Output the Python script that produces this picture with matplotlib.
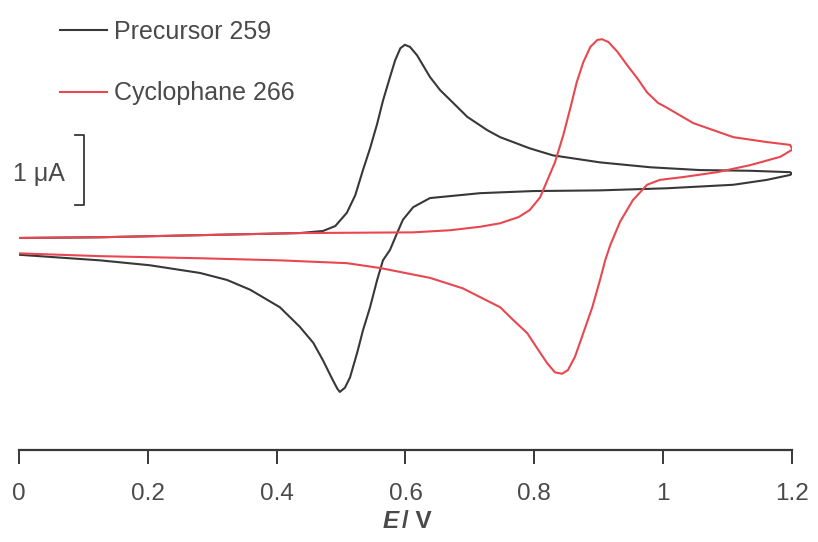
import matplotlib.pyplot as plt

# cyclic voltammograms, E in V, current in uA (anodic up)
black_fwd_E = [0.0, 0.126, 0.281, 0.436, 0.472, 0.491, 0.509, 0.522, 0.534, 0.545,
               0.556, 0.565, 0.576, 0.584, 0.592, 0.599, 0.607, 0.618, 0.627, 0.638,
               0.654, 0.674, 0.696, 0.727, 0.747, 0.793, 0.829, 0.902, 0.980, 1.057,
               1.135, 1.197, 1.200]
black_fwd_I = [0.03, 0.04, 0.07, 0.10, 0.13, 0.20, 0.39, 0.64, 1.00, 1.31,
               1.66, 1.99, 2.33, 2.57, 2.74, 2.79, 2.76, 2.64, 2.50, 2.33,
               2.14, 1.96, 1.76, 1.57, 1.47, 1.31, 1.21, 1.11, 1.04, 1.00,
               0.99, 0.97, 0.95]
black_rev_E = [1.200, 1.197, 1.161, 1.109, 1.006, 0.902, 0.798, 0.716, 0.638, 0.612,
               0.596, 0.587, 0.576, 0.565, 0.556, 0.545, 0.534, 0.525, 0.514, 0.506,
               0.498, 0.494, 0.486, 0.472, 0.457, 0.436, 0.405, 0.359, 0.323, 0.281,
               0.203, 0.126, 0.0]
black_rev_I = [0.95, 0.93, 0.86, 0.79, 0.74, 0.71, 0.70, 0.67, 0.60, 0.47,
               0.29, 0.10, -0.14, -0.29, -0.57, -0.96, -1.29, -1.61, -1.96, -2.11,
               -2.17, -2.12, -1.98, -1.72, -1.47, -1.24, -0.96, -0.71, -0.57, -0.47,
               -0.36, -0.29, -0.21]

red_fwd_E = [0.0, 0.126, 0.281, 0.436, 0.612, 0.669, 0.716, 0.747, 0.776, 0.793,
             0.809, 0.832, 0.845, 0.856, 0.866, 0.876, 0.887, 0.898, 0.905, 0.915,
             0.929, 0.944, 0.960, 0.975, 0.992, 1.006, 1.047, 1.109, 1.161, 1.197,
             1.200]
red_fwd_I = [0.03, 0.04, 0.07, 0.10, 0.11, 0.14, 0.19, 0.24, 0.33, 0.43,
             0.61, 1.11, 1.50, 1.89, 2.26, 2.54, 2.76, 2.86, 2.87, 2.83,
             2.69, 2.50, 2.31, 2.11, 1.96, 1.89, 1.67, 1.47, 1.40, 1.36,
             1.31]
red_rev_E = [1.200, 1.182, 1.135, 1.084, 1.031, 0.995, 0.975, 0.953, 0.933, 0.918,
             0.910, 0.902, 0.890, 0.876, 0.863, 0.852, 0.843, 0.832, 0.820, 0.804,
             0.789, 0.767, 0.747, 0.689, 0.638, 0.561, 0.509, 0.405, 0.281, 0.126,
             0.0]
red_rev_I = [1.29, 1.19, 1.07, 0.97, 0.90, 0.86, 0.79, 0.57, 0.26, -0.07,
             -0.29, -0.57, -0.96, -1.33, -1.67, -1.86, -1.91, -1.89, -1.76, -1.54,
             -1.33, -1.14, -0.96, -0.69, -0.54, -0.40, -0.33, -0.29, -0.26, -0.23,
             -0.19]

x_ticks = [0, 0.2, 0.4, 0.6, 0.8, 1.0, 1.2]
x_tick_labels = ['0', '0.2', '0.4', '0.6', '0.8', '1', '1.2']
labels = ['Precursor 259', 'Cyclophane 266']

plt.rcParams['font.family'] = ['Liberation Sans', 'DejaVu Sans']
text_col = '#4a4a4a'
black_col = '#383838'
red_col = '#e8474f'

fig = plt.figure(figsize=(8.18, 5.42), dpi=100)
ax = fig.add_axes([0.0232, 0.1697, 0.9450, 0.8303])

ax.plot(black_fwd_E + black_rev_E, black_fwd_I + black_rev_I,
        color=black_col, lw=1.5, label=labels[0], solid_joinstyle='round')
ax.plot(red_fwd_E + red_rev_E, red_fwd_I + red_rev_I,
        color=red_col, lw=1.5, label=labels[1], solid_joinstyle='round')

ax.set_xlim(0, 1.2)
ax.set_ylim(-3.0, 3.43)

for s in ['top', 'right', 'left']:
    ax.spines[s].set_visible(False)
ax.spines['bottom'].set_color(black_col)
ax.spines['bottom'].set_linewidth(1.6)
ax.set_yticks([])
ax.set_xticks(x_ticks)
ax.set_xticklabels(x_tick_labels)
ax.tick_params(axis='x', direction='out', length=10, width=1.4, color=black_col,
               labelsize=17.5, labelcolor=text_col, pad=14)

# axis title: italic bold E, upright V
fig.text(0.487, 0.037, 'E', fontsize=17.5, color=text_col, fontweight='bold',
         fontstyle='italic', ha='right', va='center')
fig.text(0.491, 0.037, '/ V', fontsize=17.5, color=text_col, fontweight='bold',
         ha='left', va='center')

# legend
leg = ax.legend(loc='upper left', bbox_to_anchor=(0.053, 0.956), frameon=False,
                fontsize=18, handlelength=1.9, handletextpad=0.28,
                labelspacing=1.5, labelcolor=text_col,
                borderpad=0, borderaxespad=0)

# 1 uA scale bar
ax.plot([0.087, 0.101, 0.101, 0.087], [1.5, 1.5, 0.5, 0.5],
        color=black_col, lw=1.3, clip_on=False)
ax.text(0.071, 0.95, '1 \u03bcA', fontsize=18, color=text_col,
        ha='right', va='center')

fig.savefig('out.png', dpi=100)
